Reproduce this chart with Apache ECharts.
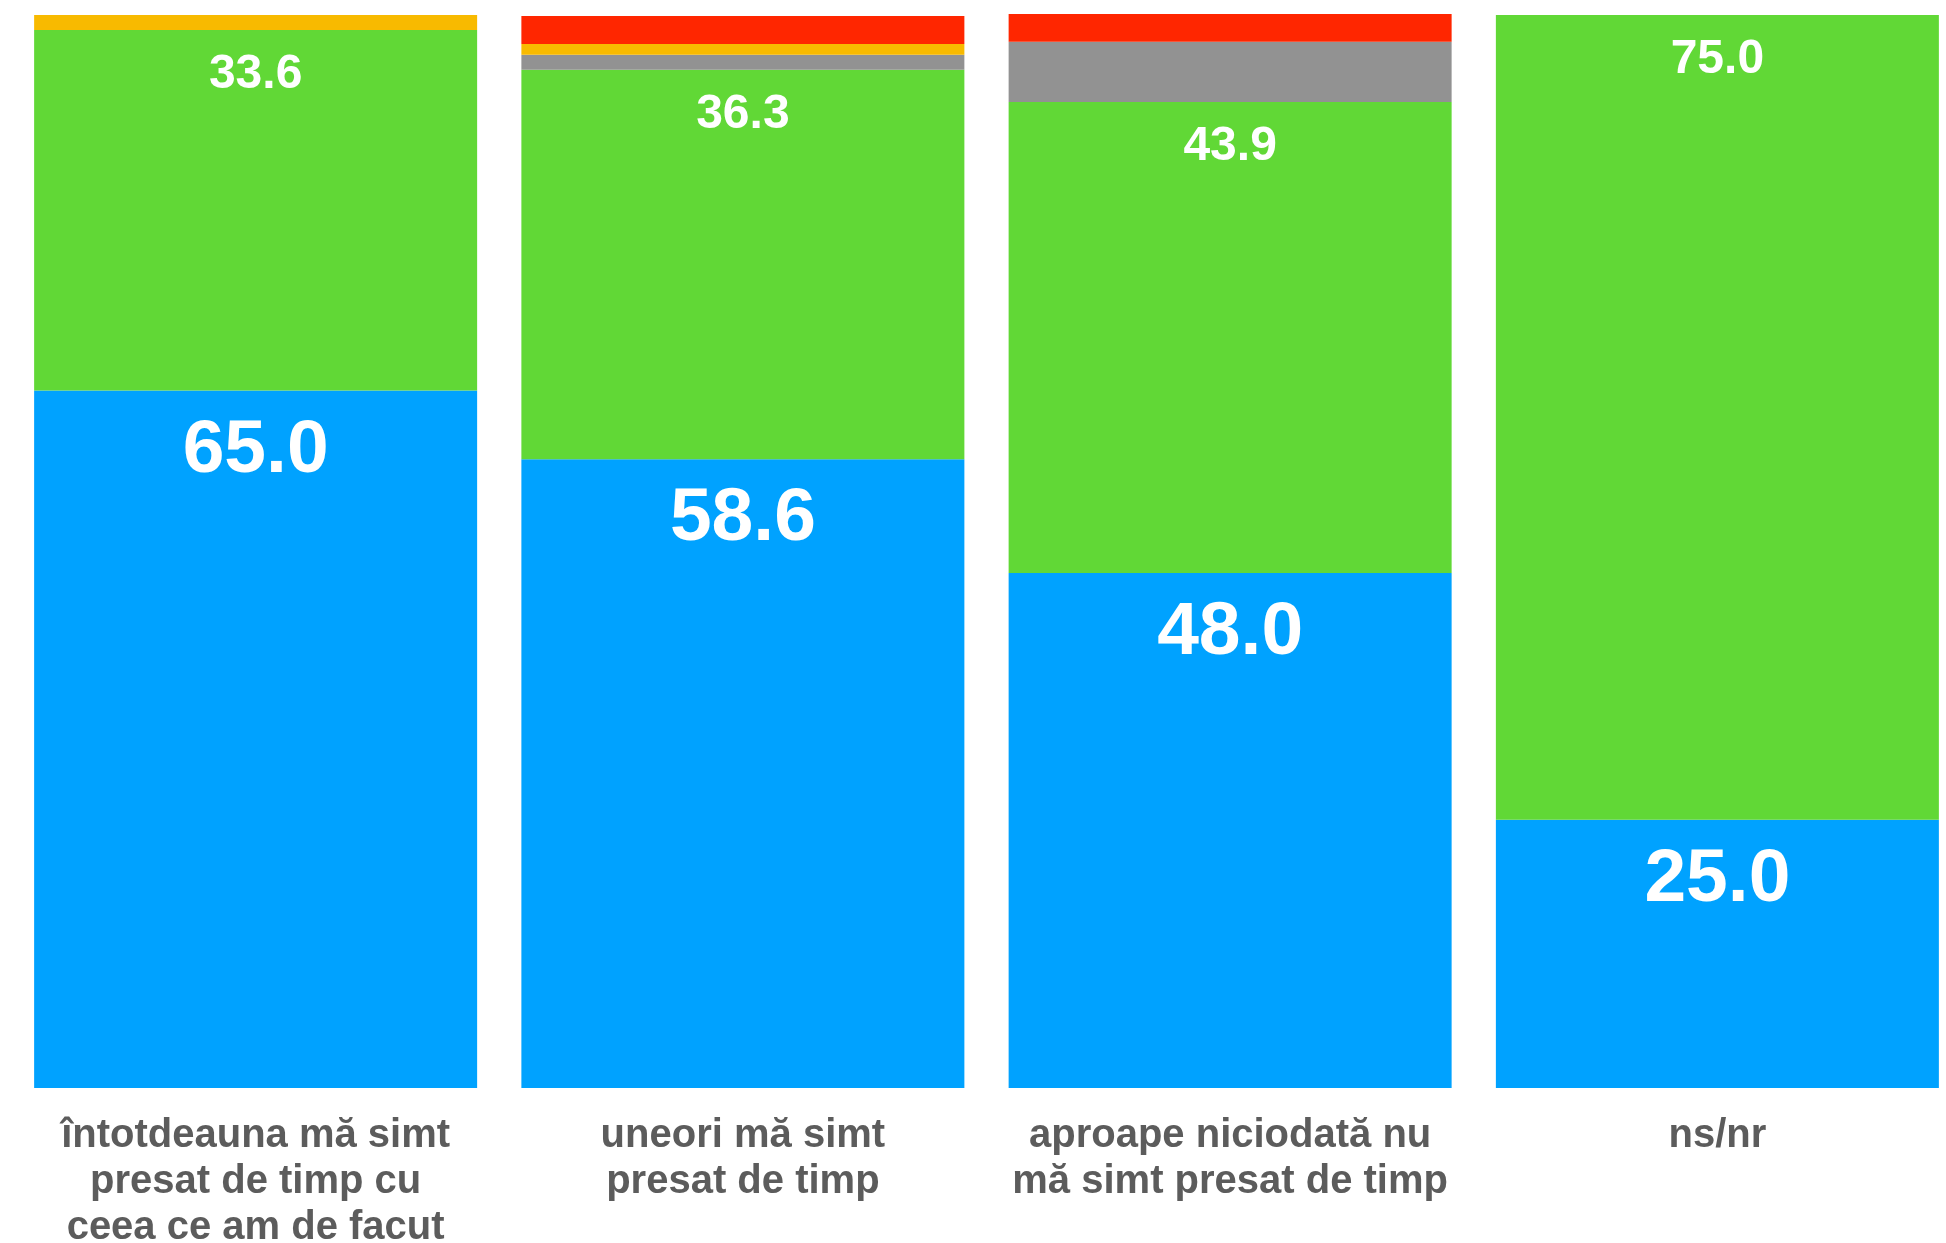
<!DOCTYPE html>
<html>
<head>
<meta charset="utf-8">
<script src="https://cdn.jsdelivr.net/npm/echarts@6/dist/echarts.min.js"></script>
<style>
html,body{margin:0;padding:0;background:#fff;overflow:hidden;}
#chart{width:1946px;height:1243px;}
</style>
</head>
<body>
<div id="chart"></div>
<script>
const categories = [
  "întotdeauna mă simt\npresat de timp cu\nceea ce am de facut",
  "uneori mă simt\npresat de timp",
  "aproape niciodată nu\nmă simt presat de timp",
  "ns/nr"
];
const blueValues   = [65.0, 58.6, 48.0, 25.0];
const greenValues  = [33.6, 36.3, 43.9, 75.0];
const grayValues   = [0, 1.4, 5.6, 0];
const yellowValues = [1.4, 1.0, 0, 0];
const redValues    = [0, 2.6, 2.6, 0];

const FONT = '"Liberation Sans", Arial, Helvetica, sans-serif';

function mk(name, data, color, label) {
  return {
    name: name,
    type: 'bar',
    stack: 'total',
    data: data,
    barWidth: 443,
    clip: false,
    itemStyle: { color: color },
    label: label || { show: false },
    emphasis: { disabled: true }
  };
}

const chart = echarts.init(document.getElementById('chart'));
chart.setOption({
  animation: false,
  backgroundColor: '#ffffff',
  grid: { left: 12, top: 15, width: 1949, height: 1073, containLabel: false, outerBoundsMode: 'none' },
  xAxis: {
    type: 'category',
    data: categories,
    axisLine: { show: false },
    axisTick: { show: false },
    axisLabel: {
      interval: 0,
      margin: 25,
      color: '#5c5c5c',
      fontFamily: FONT,
      fontWeight: 'bold',
      fontSize: 40,
      lineHeight: 46,
      align: 'center'
    }
  },
  yAxis: { type: 'value', min: 0, max: 100, show: false, splitLine: { show: false } },
  series: [
    mk('blue', blueValues, '#00A2FF', {
      show: true, position: 'insideTop', distance: 23,
      color: '#ffffff', fontFamily: FONT, fontWeight: 'bold', fontSize: 75,
      formatter: p => p.value.toFixed(1)
    }),
    mk('green', greenValues, '#61D836', {
      show: true, position: 'insideTop', distance: 21,
      color: '#ffffff', fontFamily: FONT, fontWeight: 'bold', fontSize: 48,
      formatter: p => p.value.toFixed(1)
    }),
    mk('gray', grayValues, '#929292'),
    mk('yellow', yellowValues, '#F8BA00'),
    mk('red', redValues, '#FF2600')
  ]
});
</script>
</body>
</html>
